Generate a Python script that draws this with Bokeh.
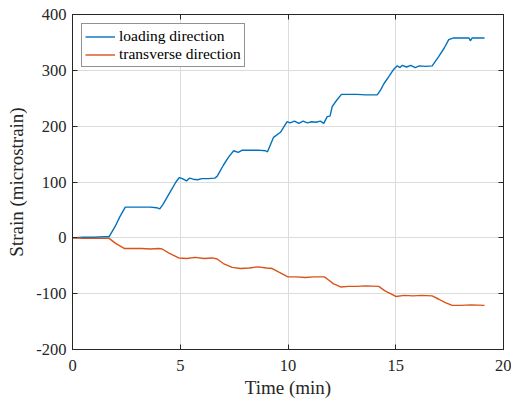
from bokeh.plotting import figure
from bokeh.models import LinearAxis, Range1d, Legend, LegendItem, FixedTicker
from bokeh.embed import file_html
from bokeh.resources import INLINE

# Loading direction (blue)
t_load = [0, 0.5, 1.0, 1.5, 1.7, 2.0, 2.2, 2.45, 2.8, 3.2, 3.6, 3.9, 4.05, 4.2, 4.5,
          4.8, 4.96, 5.1, 5.29, 5.44, 5.6, 5.8, 6.0, 6.3, 6.6, 6.71, 7.0, 7.25, 7.48,
          7.69, 7.88, 8.2, 8.6, 8.96, 9.05, 9.33, 9.65, 9.96, 10.1, 10.3, 10.5, 10.7,
          10.9, 11.1, 11.3, 11.5, 11.66, 11.82, 11.95, 12.05, 12.25, 12.48, 12.8, 13.2,
          13.6, 14.0, 14.14, 14.3, 14.45, 14.7, 14.91, 15.07, 15.2, 15.3, 15.5, 15.7,
          15.9, 16.1, 16.4, 16.69, 17.0, 17.25, 17.46, 17.69, 18.0, 18.4, 18.46, 18.55,
          18.8, 19.12]
strain_load = [0, 1, 1, 2, 2, 22, 38, 55, 55, 55, 55, 54, 52, 60, 80,
               100, 108, 106, 102, 107, 105, 104, 106, 106, 107, 110, 130, 145, 156,
               153, 157, 157, 157, 156, 154, 180, 189, 208, 206, 209, 205, 209,
               206, 208, 207, 209, 205, 217, 218, 235, 246, 257, 257, 257,
               256, 256, 256, 265, 276, 290, 302, 308, 305, 309, 306, 309,
               305, 308, 307, 308, 325, 340, 355, 358, 358, 358, 353, 358,
               358, 358]

# Transverse direction (orange)
t_trans = [0, 0.5, 1.0, 1.5, 1.7, 2.0, 2.4, 2.8, 3.2, 3.6, 4.0, 4.16, 4.5, 4.93, 5.3,
           5.7, 6.1, 6.5, 6.71, 7.0, 7.41, 7.8, 8.2, 8.6, 9.0, 9.27, 9.6, 10.0, 10.4,
           10.8, 11.2, 11.69, 11.9, 12.1, 12.44, 12.8, 13.2, 13.6, 14.21, 14.5, 14.8,
           15.0, 15.4, 15.8, 16.2, 16.69, 17.0, 17.3, 17.62, 18.0, 18.5, 19.12]
strain_trans = [0, -1, -1, -1, -1, -10, -19, -19, -19, -20, -19, -20, -28, -36, -37,
                -35, -37, -36, -38, -46, -53, -55, -54, -52, -54, -55, -62, -70, -70,
                -71, -70, -70, -76, -82, -88, -87, -87, -86, -87, -95, -101,
                -105, -103, -104, -103, -104, -110, -116, -121, -121, -120, -121]

x_ticks = [0, 5, 10, 15, 20]
y_ticks = [-200, -100, 0, 100, 200, 300, 400]
y_tick_labels = ["-200", "-100", "0", "100", "200", "300", "400"]

FONT = "Liberation Serif"
AX = "#262626"

p = figure(width=511, height=400, output_backend="svg", toolbar_location=None,
           x_range=Range1d(0, 20), y_range=Range1d(-200, 400),
           min_border_left=72, min_border_right=8, min_border_top=14, min_border_bottom=51)
p.outline_line_color = AX
p.outline_line_width = 1
p.background_fill_color = "white"
p.border_fill_color = "white"

l1 = p.line(t_load, strain_load, line_color="#0072BD", line_width=1.4)
l2 = p.line(t_trans, strain_trans, line_color="#D95319", line_width=1.4)

for ax in p.xaxis:
    ax.ticker = FixedTicker(ticks=x_ticks)
    ax.axis_label = "Time (min)"
    ax.major_label_standoff = 10
    ax.axis_label_standoff = 3
for ax in p.yaxis:
    ax.ticker = FixedTicker(ticks=y_ticks)
    ax.major_label_overrides = dict(zip(y_ticks, y_tick_labels))
    ax.axis_label = "Strain (microstrain)"
    ax.major_label_standoff = 6
    ax.axis_label_standoff = 6

for ax in list(p.xaxis) + list(p.yaxis):
    ax.axis_line_color = AX
    ax.major_tick_line_color = AX
    ax.major_tick_in = 5
    ax.major_tick_out = 0
    ax.minor_tick_line_color = None
    ax.major_label_text_font = FONT
    ax.major_label_text_font_size = "16.5px"
    ax.major_label_text_color = AX
    ax.axis_label_text_font = FONT
    ax.axis_label_text_font_size = "19px"
    ax.axis_label_text_font_style = "normal"
    ax.axis_label_text_color = AX

for loc, ticks in (("right", y_ticks), ("above", x_ticks)):
    a = LinearAxis(ticker=FixedTicker(ticks=ticks))
    a.major_label_overrides = {t: "" for t in ticks}
    a.major_label_standoff = 0
    a.axis_line_color = AX
    a.major_tick_line_color = AX
    a.major_tick_in = 5
    a.major_tick_out = 0
    a.minor_tick_line_color = None
    p.add_layout(a, loc)

p.grid.grid_line_color = "#dcdcdc"
p.grid.grid_line_width = 1
for g in p.xgrid:
    g.ticker = FixedTicker(ticks=x_ticks)
for g in p.ygrid:
    g.ticker = FixedTicker(ticks=y_ticks)

legend = Legend(items=[LegendItem(label="loading direction", renderers=[l1]),
                       LegendItem(label="transverse direction", renderers=[l2])],
                location="top_left")
legend.margin = 9
legend.padding = 3
legend.spacing = 0
legend.glyph_width = 30
legend.glyph_height = 17
legend.label_height = 17
legend.label_standoff = 4
legend.label_text_font = FONT
legend.label_text_font_size = "15.5px"
legend.label_text_color = "black"
legend.border_line_color = AX
legend.border_line_width = 1
legend.background_fill_color = "white"
legend.background_fill_alpha = 1
p.add_layout(legend, "center")

open("out.html", "w").write(file_html(p, INLINE))
